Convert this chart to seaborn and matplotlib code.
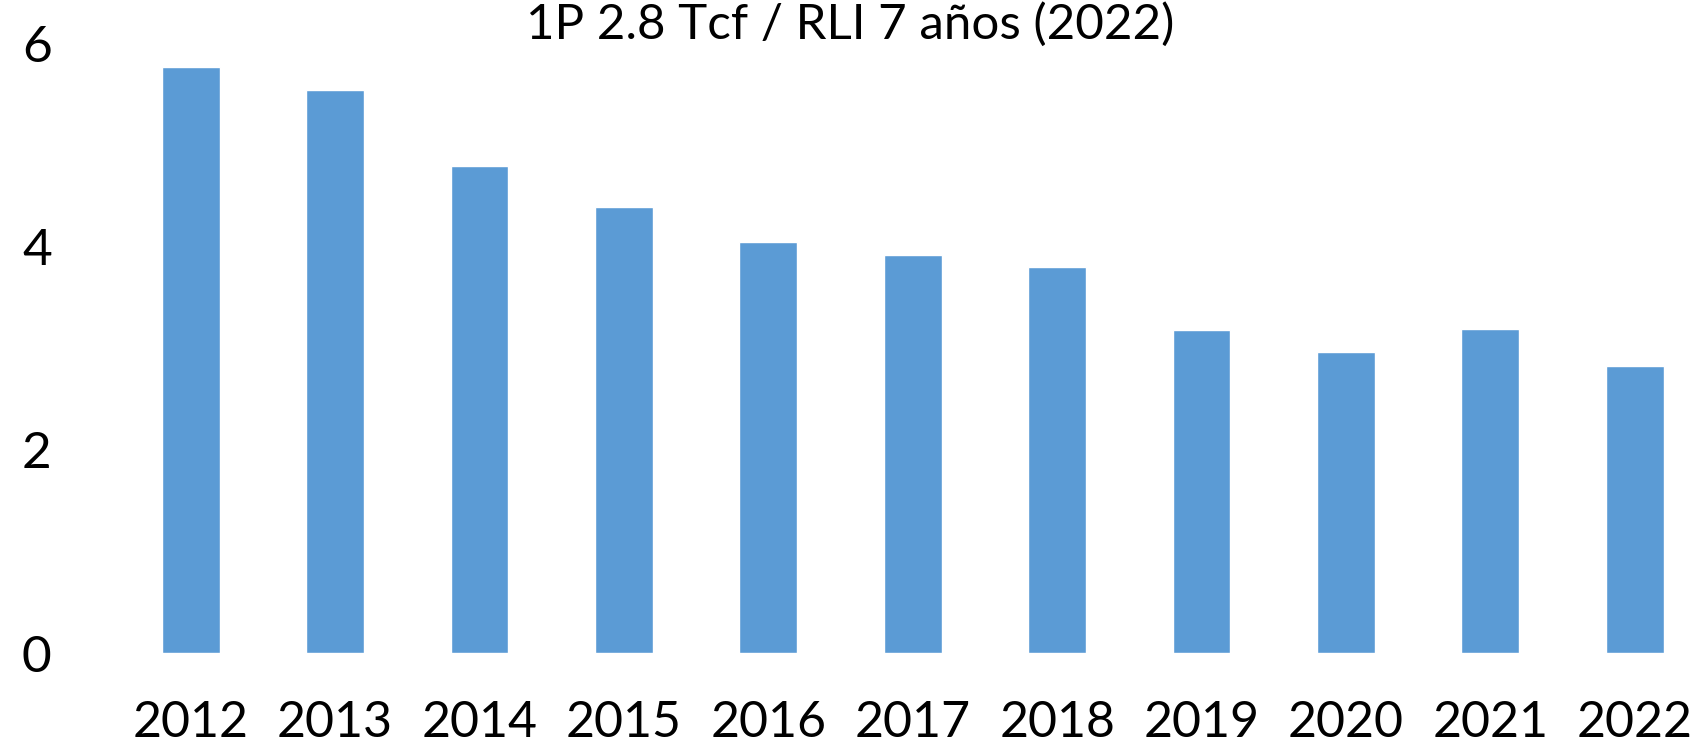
import matplotlib
matplotlib.use("Agg")
import matplotlib.pyplot as plt
import seaborn as sns
import pandas as pd

years = ["2012", "2013", "2014", "2015", "2016", "2017", "2018", "2019", "2020", "2021", "2022"]
values = [5.76, 5.54, 4.79, 4.39, 4.04, 3.91, 3.80, 3.18, 2.96, 3.19, 2.82]
yticks = [0, 2, 4, 6]
title = "1P 2.8 Tcf / RLI 7 años (2022)"

sns.set_theme(style="white")
plt.rcParams['font.family'] = ['Lato', 'DejaVu Sans']

W, H = 1699, 747
fig = plt.figure(figsize=(W / 100, H / 100), dpi=100)
L, R = 60, 1699
ax = fig.add_axes([L / W, (H - 653) / H, (R - L) / W, (653 - 43) / H])

df = pd.DataFrame({"year": years, "value": values})
sns.barplot(data=df, x="year", y="value", color="#5B9BD5", saturation=1,
            width=0.4, ax=ax)

x0, step = 190.7, 144.4
ax.set_xlim((L - x0) / step, (R - x0) / step)
ax.set_ylim(0, 6)
ax.set_yticks(yticks)
ax.set_yticklabels([str(t) for t in yticks])
ax.set_xlabel("")
ax.set_ylabel("")
for s in ax.spines.values():
    s.set_visible(False)
ax.tick_params(axis="y", length=0, pad=6, labelsize=37)
ax.tick_params(axis="x", length=0, pad=34, labelsize=36)
for lab in ax.get_xticklabels() + ax.get_yticklabels():
    lab.set_fontweight("normal")
    lab.set_color("black")
ax.grid(False)

fig.text(850 / W, 1 - 24 / H, title, ha="center", va="center", fontsize=35.5,
         fontweight="normal", color="black")

fig.savefig("out.png", dpi=100)
